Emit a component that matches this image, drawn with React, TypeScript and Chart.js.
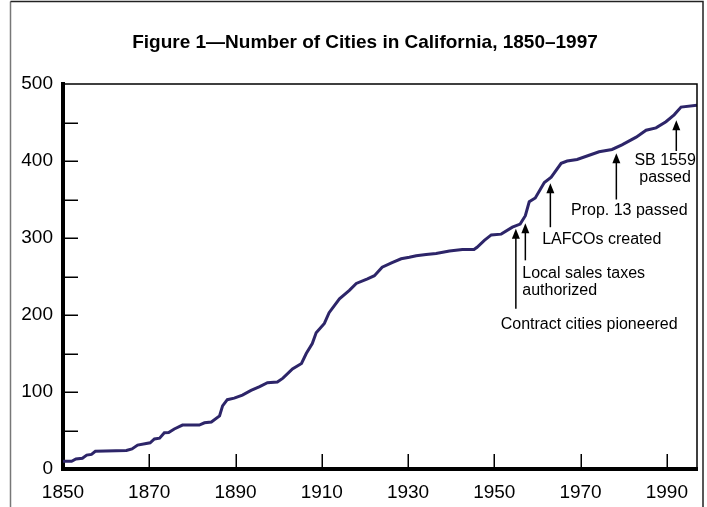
import React, { useEffect, useRef } from 'react';
import { Chart, registerables } from 'chart.js';

Chart.register(...registerables);

// ---- Data ----
const years = [
  1850, 1852, 1853, 1854.5, 1855.5, 1856.6, 1857.5, 1864.7, 1866, 1867.3,
  1869.3, 1870.2, 1871.2, 1872.4, 1873.5, 1874.5, 1875.8, 1877.7, 1881.6, 1882.8,
  1884.4, 1886.3, 1887, 1888.1, 1889.7, 1891.6, 1893.6, 1895.6, 1897.4, 1899.7,
  1901, 1903.2, 1905.3, 1906.4, 1907.8, 1908.7, 1910.6, 1911.7, 1914.1, 1916.4,
  1918, 1920.6, 1922.2, 1924, 1926.3, 1928.4, 1930.3, 1931.9, 1934.2, 1936.5,
  1939.6, 1942.6, 1945.3, 1946, 1947.7, 1949.3, 1951.6, 1954.2, 1956, 1957.2,
  1958.1, 1959.5, 1961.6, 1963.2, 1965.5, 1966.9, 1969.2, 1972, 1974.3, 1977.3,
  1979.6, 1982.9, 1985.2, 1987.5, 1989.8, 1991.7, 1993.3, 1997,
];
const cities = [
  10, 10, 13, 14, 18, 19, 23, 24, 26, 31,
  33, 34, 39, 40, 47, 47.5, 52, 57, 57, 60,
  61, 69, 82, 90, 92, 96, 102, 107, 112, 113,
  118, 130, 137, 150, 163, 177, 189, 203, 221, 232,
  241, 247, 251, 262, 268, 273, 275, 277, 278.6, 280,
  283, 285, 285, 288, 297, 304, 305, 314, 318, 329,
  347, 352, 372, 379, 397, 400, 402, 407.5, 412, 415,
  421, 431, 440, 443, 451, 460, 470, 472.5,
];

const xTickValues = [1850, 1870, 1890, 1910, 1930, 1950, 1970, 1990];
const yLabelStep = 100;
const yTickStep = 50;

const titleText = 'Figure 1\u2014Number of Cities in California, 1850\u20131997';

// Annotations (data coordinates)
const annotationTexts = [
  ['Contract cities pioneered'],
  ['Local sales taxes', 'authorized'],
  ['LAFCOs created'],
  ['Prop. 13 passed'],
  ['SB 1559', 'passed'],
];
const annotationYears = [1955, 1957.2, 1963, 1978.3, 1992.2];
const arrowTipValues = [312, 319, 371, 410, 453];
const arrowTailValues = [208, 271, 314, 350, 413];
const labelYears = [1972, 1956.5, 1961.1, 1981.3, 1989.6];
const labelValues = [187, 254, 298, 335, 401];
const labelAligns = ['center', 'left', 'left', 'center', 'center'];

const FONT = '"Liberation Sans", Arial, Helvetica, sans-serif';
const LINE_COLOR = '#2d2569';

const decorPlugin = {
  id: 'decor',
  beforeDraw(chart: any) {
    const ctx = chart.ctx;
    ctx.save();
    // outer figure frame
    ctx.lineWidth = 1.5;
    ctx.strokeStyle = '#777';
    ctx.beginPath();
    ctx.moveTo(10.5, 507);
    ctx.lineTo(10.5, 1.5);
    ctx.stroke();
    ctx.strokeStyle = '#222';
    ctx.beginPath();
    ctx.moveTo(10.5, 1.5);
    ctx.lineTo(703, 1.5);
    ctx.lineTo(703, 507);
    ctx.stroke();
    // title
    ctx.fillStyle = '#000';
    ctx.font = `bold 19px ${FONT}`;
    ctx.textAlign = 'center';
    ctx.textBaseline = 'middle';
    ctx.fillText(titleText, 365, 43);
    ctx.restore();
  },
  afterDatasetsDraw(chart: any) {
    const ctx = chart.ctx;
    const xs = chart.scales.x;
    const ys = chart.scales.y;
    const area = chart.chartArea;
    ctx.save();
    // top & right frame of plot
    ctx.strokeStyle = '#000';
    ctx.lineWidth = 1.5;
    ctx.beginPath();
    ctx.moveTo(area.left, area.top);
    ctx.lineTo(area.right, area.top);
    ctx.lineTo(area.right, area.bottom);
    ctx.stroke();
    // inward tick marks on y
    ctx.lineWidth = 1.5;
    ys.ticks.forEach((t: any) => {
      if (t.value <= ys.min || t.value >= ys.max) return;
      const y = Math.round(ys.getPixelForValue(t.value)) + 0.25;
      ctx.beginPath();
      ctx.moveTo(area.left, y);
      ctx.lineTo(area.left + 15, y);
      ctx.stroke();
    });
    // inward tick marks on x
    xs.ticks.forEach((t: any) => {
      if (t.value <= xs.min || t.value >= xs.max) return;
      const x = Math.round(xs.getPixelForValue(t.value)) + 0.25;
      ctx.beginPath();
      ctx.moveTo(x, area.bottom);
      ctx.lineTo(x, area.bottom - 15);
      ctx.stroke();
    });
    // annotations
    ctx.fillStyle = '#000';
    ctx.strokeStyle = '#000';
    annotationTexts.forEach((lines, i) => {
      const ax = xs.getPixelForValue(annotationYears[i]);
      const tipY = ys.getPixelForValue(arrowTipValues[i]);
      const tailY = ys.getPixelForValue(arrowTailValues[i]);
      ctx.lineWidth = 1.5;
      ctx.beginPath();
      ctx.moveTo(ax, tailY);
      ctx.lineTo(ax, tipY + 6);
      ctx.stroke();
      ctx.beginPath();
      ctx.moveTo(ax, tipY);
      ctx.lineTo(ax - 4, tipY + 10);
      ctx.lineTo(ax + 4, tipY + 10);
      ctx.closePath();
      ctx.fill();
      ctx.font = `16px ${FONT}`;
      ctx.textAlign = labelAligns[i] as CanvasTextAlign;
      ctx.textBaseline = 'middle';
      const lx = xs.getPixelForValue(labelYears[i]);
      const ly = ys.getPixelForValue(labelValues[i]);
      lines.forEach((ln, j) => {
        ctx.fillText(ln, lx, ly + j * 17);
      });
    });
    ctx.restore();
  },
};

export default function App() {
  const ref = useRef<HTMLCanvasElement | null>(null);
  useEffect(() => {
    if (!ref.current) return;
    const chart = new Chart(ref.current, {
      type: 'line',
      data: {
        datasets: [
          {
            data: years.map((y, i) => ({ x: y, y: cities[i] })),
            borderColor: LINE_COLOR,
            borderWidth: 3,
            pointRadius: 0,
            tension: 0,
            fill: false,
          },
        ],
      },
      options: {
        responsive: false,
        animation: false,
        devicePixelRatio: 1,
        layout: { padding: { top: 84, right: 10, left: 0, bottom: 0 } },
        plugins: { legend: { display: false }, tooltip: { enabled: false }, title: { display: false } },
        scales: {
          x: {
            type: 'linear',
            min: 1850,
            max: 1997,
            afterBuildTicks: (scale: any) => {
              scale.ticks = xTickValues.map((v) => ({ value: v }));
            },
            afterFit: (scale: any) => {
              scale.height = 38;
            },
            grid: { display: false, drawTicks: false },
            border: { display: true, color: '#000', width: 4 },
            ticks: {
              autoSkip: false,
              maxRotation: 0,
              padding: 12,
              color: '#000',
              font: { family: FONT, size: 19 },
              callback: (v: any) => String(v),
            },
          },
          y: {
            type: 'linear',
            min: 0,
            max: 500,
            afterFit: (scale: any) => {
              scale.width = 63;
            },
            grid: { display: false, drawTicks: false },
            border: { display: true, color: '#000', width: 4 },
            ticks: {
              stepSize: yTickStep,
              padding: 10,
              color: '#000',
              font: { family: FONT, size: 19 },
              callback: (v: any) => (Number(v) % yLabelStep === 0 ? String(v) : ''),
            },
          },
        },
      },
      plugins: [decorPlugin],
    });
    return () => chart.destroy();
  }, []);
  return (
    <div style={{ position: 'fixed', left: 0, top: 0, width: 707, height: 507, background: '#fff' }}>
      <canvas ref={ref} width={707} height={507} />
    </div>
  );
}
